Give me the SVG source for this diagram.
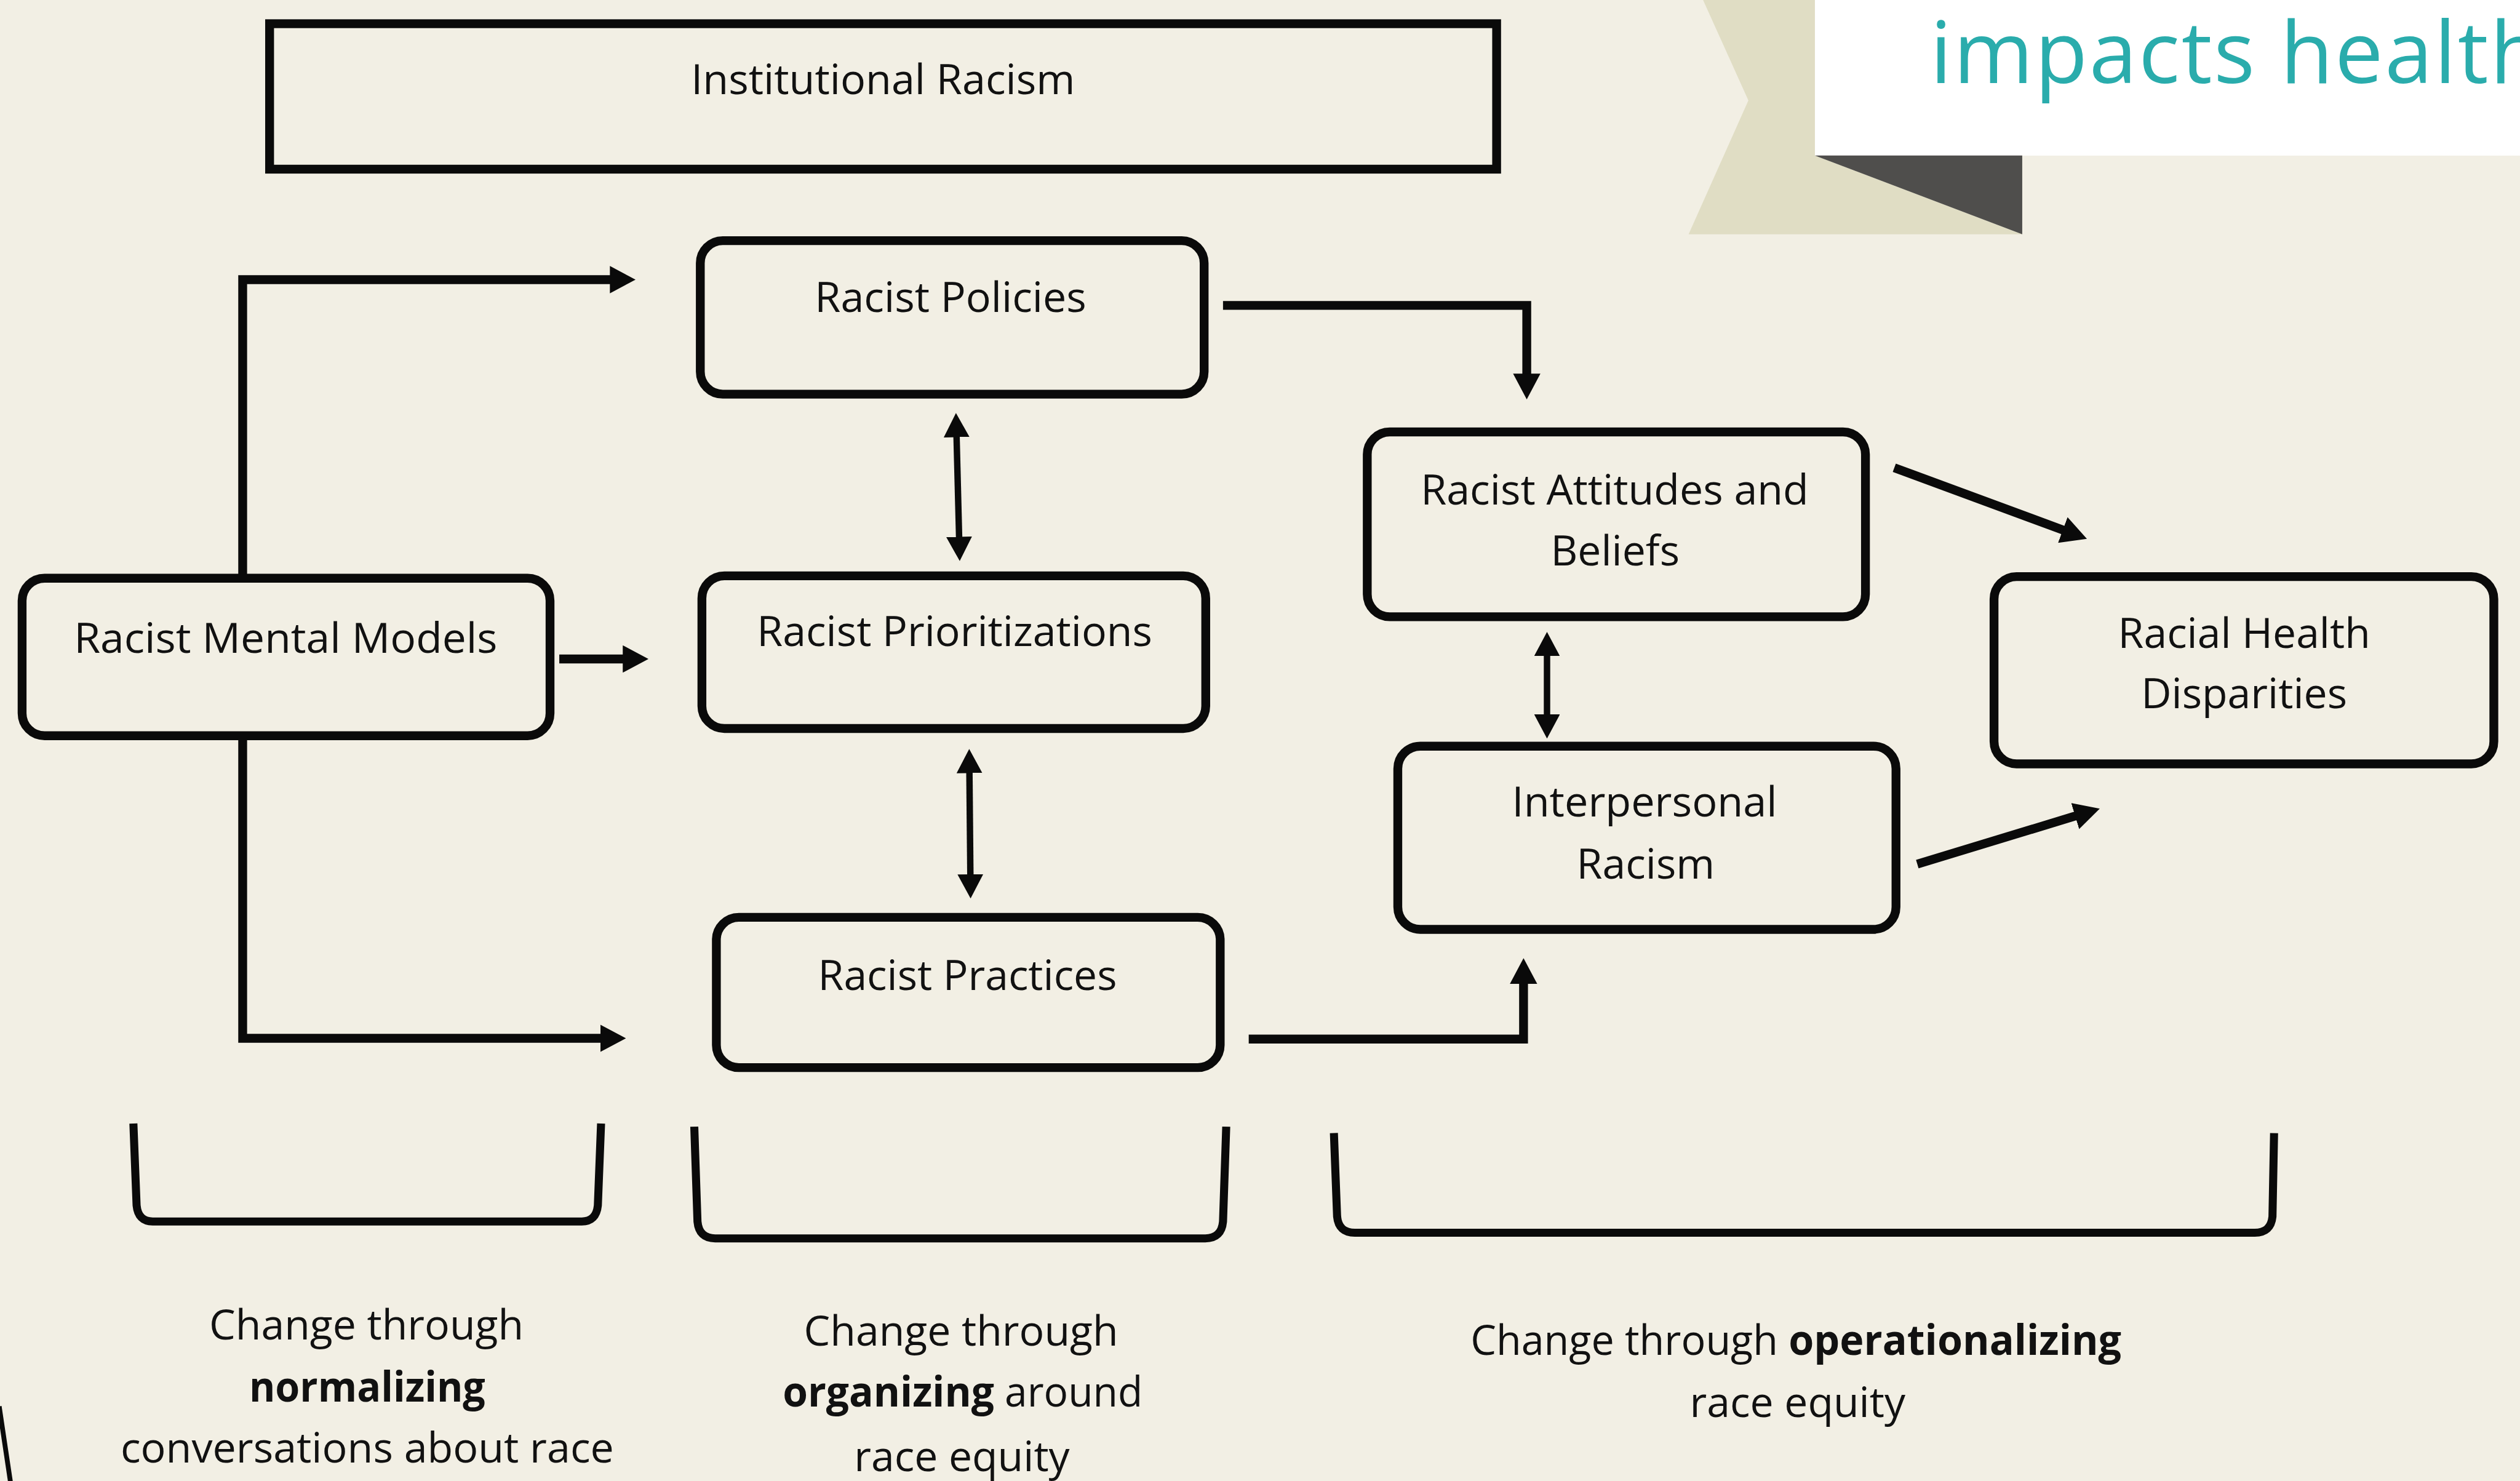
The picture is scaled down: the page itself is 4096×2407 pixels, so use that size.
<svg xmlns="http://www.w3.org/2000/svg" width="4096" height="2407" viewBox="0 0 4096 2407">
<defs>
<style>
.bx{fill:none;stroke:#0a0a0a;stroke-width:5.5}
.t{font-family:"Open Sans","Liberation Sans",sans-serif;font-size:26px;fill:#111;text-anchor:middle}
.b{font-weight:700}
.c{fill:none;stroke:#0a0a0a;stroke-width:5.5;stroke-linejoin:miter}
.d{fill:none;stroke:#0a0a0a;stroke-width:4}
.br{fill:none;stroke:#0a0a0a;stroke-width:5;stroke-linejoin:round}
</style>
<marker id="ah" markerUnits="userSpaceOnUse" viewBox="0 0 16 17" markerWidth="16" markerHeight="17" refX="0.5" refY="8.5" orient="auto"><path d="M0,0 L16,8.5 L0,17 z" fill="#0a0a0a"/></marker>
<marker id="dh" markerUnits="userSpaceOnUse" viewBox="0 0 15 16" markerWidth="15" markerHeight="16" refX="0.5" refY="8" orient="auto-start-reverse"><path d="M0,0 L15,8 L0,16 z" fill="#0a0a0a"/></marker>
</defs>
<rect x="0" y="0" width="4096" height="2407" fill="#F2EFE4"/>
<g transform="scale(2.6122)">
<g id="header-decor">
<polygon points="1059.7,0 1129.3,0 1129.3,96.8 1258.3,145.8 1050.7,145.8 1087.9,62.5" fill="#E0DDC4"/>
<rect x="1129.3" y="0" width="440" height="96.8" fill="#FFFFFF"/>
<polygon points="1129.3,96.8 1258.3,96.8 1258.3,145.8" fill="#4F4E4C"/>
<text x="1201" y="51.8" font-family="Open Sans, Liberation Sans, sans-serif" font-size="53.6" fill="#2AACAC" letter-spacing="1">impacts health</text>
</g>
<path d="M-0.5,875 L6.5,922" stroke="#0a0a0a" stroke-width="3" fill="none"/>
<g id="connectors">
<path class="c" d="M151,359 V174 H380" marker-end="url(#ah)"/>
<path class="c" d="M348,410 H388" marker-end="url(#ah)"/>
<path class="c" d="M151,458 V646 H374" marker-end="url(#ah)"/>
<path class="c" d="M761,190 H950 V233" marker-end="url(#ah)"/>
<path class="c" d="M777,646.5 H948 V611.6" marker-end="url(#ah)"/>
<path class="d" d="M595.2,271.5 L596.8,334.5" marker-start="url(#dh)" marker-end="url(#dh)"/>
<path class="d" d="M603.2,480.5 L603.8,544.5" marker-start="url(#dh)" marker-end="url(#dh)"/>
<path class="d" d="M962.6,407.7 L962.6,445" marker-start="url(#dh)" marker-end="url(#dh)"/>
<path class="c" d="M1178.7,291 L1284,329.9" marker-end="url(#ah)"/>
<path class="c" d="M1193,537.6 L1291.7,507.6" marker-end="url(#ah)"/>
</g>
<g id="institutional-racism">
<rect class="bx" x="167.75" y="14.75" width="763.5" height="90.5"/>
<text class="t" x="549.5" y="58.7" textLength="239" lengthAdjust="spacingAndGlyphs">Institutional Racism</text>
</g>
<g id="racist-policies">
<rect class="bx" x="435.75" y="149.75" width="313.5" height="95.5" rx="14"/>
<text class="t" x="591.5" y="194" textLength="169" lengthAdjust="spacingAndGlyphs">Racist Policies</text>
</g>
<g id="racist-prioritizations">
<rect class="bx" x="436.75" y="358.25" width="313.5" height="95" rx="14"/>
<text class="t" x="594" y="402" textLength="246" lengthAdjust="spacingAndGlyphs">Racist Prioritizations</text>
</g>
<g id="racist-practices">
<rect class="bx" x="445.75" y="570.75" width="313.5" height="93.5" rx="14"/>
<text class="t" x="602" y="616" textLength="186" lengthAdjust="spacingAndGlyphs">Racist Practices</text>
</g>
<g id="racist-mental-models">
<rect class="bx" x="13.75" y="359.75" width="328.5" height="98" rx="14"/>
<text class="t" x="177.75" y="406" textLength="263.5" lengthAdjust="spacingAndGlyphs">Racist Mental Models</text>
</g>
<g id="racist-attitudes">
<rect class="bx" x="850.75" y="268.75" width="310" height="115" rx="14"/>
<text class="t" x="1004.7" y="313.8" textLength="241.4" lengthAdjust="spacingAndGlyphs">Racist Attitudes and</text>
<text class="t" x="1005" y="352">Beliefs</text>
</g>
<g id="interpersonal-racism">
<rect class="bx" x="869.75" y="464.25" width="310" height="114" rx="14"/>
<text class="t" x="1023.3" y="508" textLength="165" lengthAdjust="spacingAndGlyphs">Interpersonal</text>
<text class="t" x="1024" y="546.7">Racism</text>
</g>
<g id="racial-health-disparities">
<rect class="bx" x="1240.75" y="358.75" width="311" height="116.5" rx="14"/>
<text class="t" x="1396.4" y="403" textLength="157" lengthAdjust="spacingAndGlyphs">Racial Health</text>
<text class="t" x="1396.4" y="440.7">Disparities</text>
</g>
<g id="bracket-normalizing">
<path class="br" d="M83,699 L85,750 Q86,760 95,760 L362,760 Q371,760 372,750 L374,699"/>
<text class="t" x="228" y="833.5">Change through</text>
<text class="t b" x="228.5" y="872" textLength="147" lengthAdjust="spacingAndGlyphs">normalizing</text>
<text class="t" x="228.5" y="910" textLength="307" lengthAdjust="spacingAndGlyphs">conversations about race</text>
</g>
<g id="bracket-organizing">
<path class="br" d="M432,701 L434,760 Q435,770.5 445,770.5 L750,770.5 Q760,770.5 761,760 L763,701"/>
<text class="t" x="598" y="837.4">Change through</text>
<text class="t" x="599" y="875.3" textLength="224" lengthAdjust="spacingAndGlyphs"><tspan class="b">organizing</tspan> around</text>
<text class="t" x="598.5" y="915.5">race equity</text>
</g>
<g id="bracket-operationalizing">
<path class="br" d="M830,705 L832,757 Q833,767 843,767 L1403,767 Q1413,767 1414,757 L1415,705"/>
<text class="t" x="1117.5" y="842.8" textLength="405" lengthAdjust="spacingAndGlyphs">Change through <tspan class="b">operationalizing</tspan></text>
<text class="t" x="1118.5" y="881.5">race equity</text>
</g>
</g>
</svg>
